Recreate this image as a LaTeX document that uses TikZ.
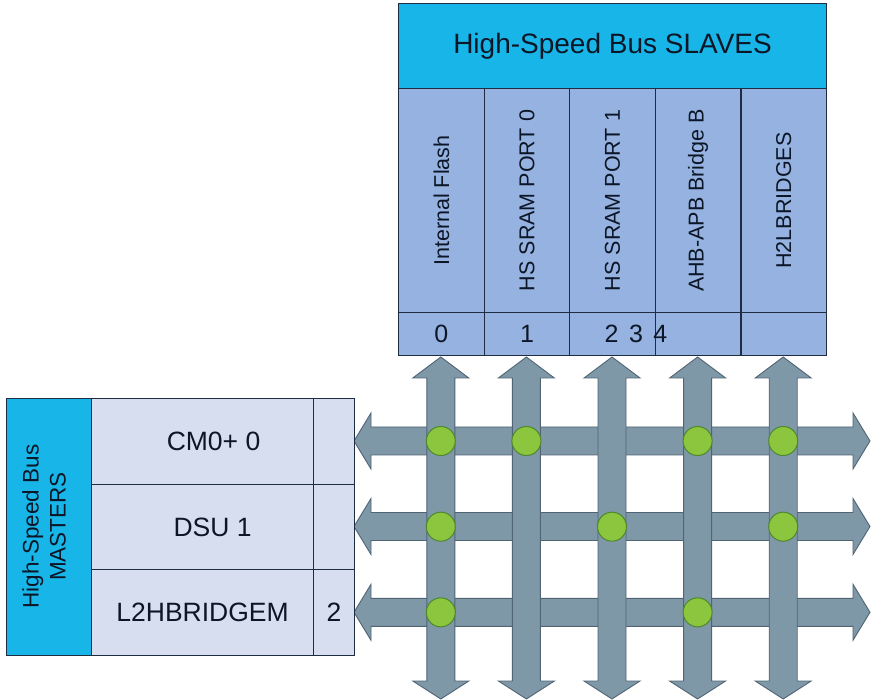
\documentclass[tikz,border=0pt]{standalone}
\usepackage{fontspec}
\setmainfont{Liberation Sans}
\definecolor{hdr}{RGB}{24,182,232}
\definecolor{slv}{RGB}{150,178,224}
\definecolor{mst}{RGB}{214,222,240}
\definecolor{arr}{RGB}{127,152,168}
\definecolor{arrline}{RGB}{80,100,116}
\definecolor{dotfill}{RGB}{140,198,62}
\definecolor{dotline}{RGB}{78,135,45}
\definecolor{edge}{RGB}{30,45,65}
\definecolor{txt}{RGB}{12,22,38}
\tikzset{
  cell/.style={draw=edge, line width=1.1pt, inner sep=0pt, anchor=north west, text=txt},
  barrow/.style={fill=arr, draw=arrline, line width=0.9pt, line join=miter},
  xdot/.style={circle, fill=dotfill, draw=dotline, line width=1pt, minimum size=29pt, inner sep=0pt},
  lbl/.style={text=txt, inner sep=0pt}
}
\begin{document}
\begin{tikzpicture}[x=1pt,y=-1pt]
\useasboundingbox[fill=white] (0,0) rectangle (876,700);
% horizontal bus arrows
\foreach \r in {441,526.5,612.3}{
  \draw[barrow] (371,\r-14) -- (371,\r-28) -- (354,\r) -- (371,\r+28) -- (371,\r+14)
     -- (853,\r+14) -- (853,\r+28) -- (870,\r) -- (853,\r-28) -- (853,\r-14) -- cycle;
}
% vertical bus arrows
\foreach \k in {0,...,4}{
  \pgfmathsetmacro{\c}{398+85.6*(\k+0.5)}
  \draw[barrow] (\c-14,378) -- (\c-28,378) -- (\c,357) -- (\c+28,378) -- (\c+14,378)
     -- (\c+14,681) -- (\c+28,681) -- (\c,699) -- (\c-28,681) -- (\c-14,681) -- cycle;
}
% slaves header
\node[cell, fill=hdr, minimum width=428pt, minimum height=85pt] (shdr) at (398,3)
  {\fontsize{28}{32}\selectfont High-Speed Bus SLAVES};
% slave columns
\foreach \k/\name/\idx in {0/Internal Flash/0, 1/HS SRAM PORT 0/1, 2/HS SRAM PORT 1/, 3/AHB-APB Bridge B/, 4/H2LBRIDGES/}{
  \node[cell, fill=slv, minimum width=85.6pt, minimum height=224pt] (s\k) at (398+85.6*\k,88) {};
  \node[lbl, rotate=90] (sn\k) at (s\k.center) {\fontsize{21.5}{24}\selectfont \name};
  \node[cell, fill=slv, minimum width=85.6pt, minimum height=43pt] (si\k) at (398+85.6*\k,312)
    {\fontsize{25}{28}\selectfont \idx};
}
\node[lbl] (extra) at (636,333.5) {\fontsize{25}{28}\selectfont 2\hspace{3.5pt} 3\hspace{3.5pt} 4};
% masters
\node[cell, fill=hdr, minimum width=85pt, minimum height=257pt] (mhdr) at (6,398) {};
\node[lbl, rotate=90, align=center, font={\fontsize{22.5}{27}\selectfont}] (mlbl) at (44,526.5)
  {High-Speed Bus\\MASTERS};
\foreach \j/\name/\idx/\dx in {0/CM0+ 0//11, 1/DSU 1//10, 2/L2HBRIDGEM/2/0}{
  \node[cell, fill=mst, minimum width=222pt, minimum height=85.67pt] (m\j) at (91,398+85.67*\j) {};
  \node[lbl] (mn\j) at ([xshift=\dx pt]m\j.center) {\fontsize{26.5}{30}\selectfont \name};
  \node[cell, fill=mst, minimum width=41pt, minimum height=85.67pt] (mi\j) at (313,398+85.67*\j)
    {\fontsize{26.5}{30}\selectfont \idx};
}
% crossbar connection dots
\foreach \k/\j in {0/0,1/0,3/0,4/0,0/1,2/1,4/1,0/2,3/2}{
  \node[xdot] (d\k\j) at (398+85.6*\k+42.8, 441+85.67*\j) {};
}
\end{tikzpicture}
\end{document}
